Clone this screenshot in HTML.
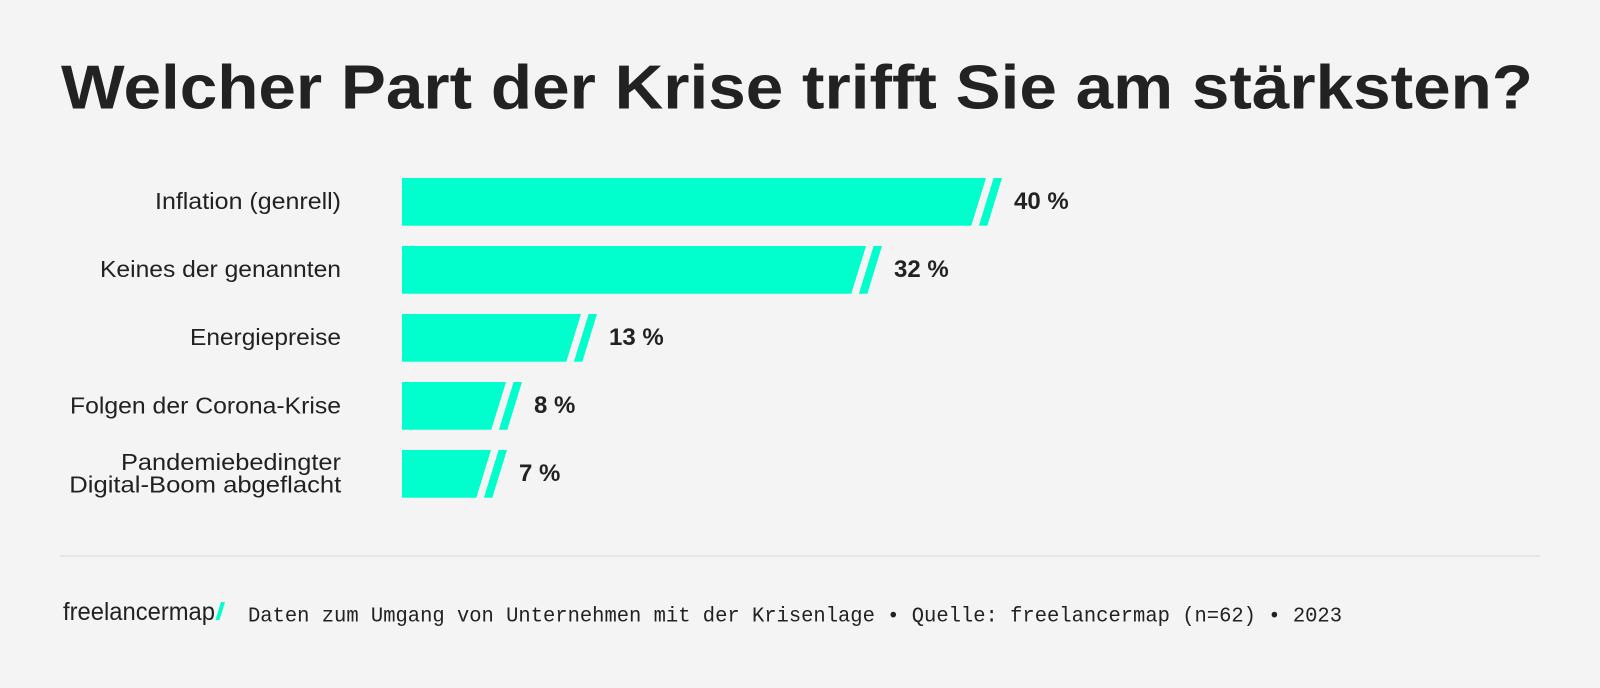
<!DOCTYPE html>
<html>
<head>
<meta charset="utf-8">
<style>
html,body{margin:0;padding:0;background:#f4f4f4;}
svg{display:block;}
</style>
</head>
<body>
<svg width="1600" height="688" viewBox="0 0 1600 688" xmlns="http://www.w3.org/2000/svg">
<rect x="0" y="0" width="1600" height="688" fill="#f4f4f4"/>
<text x="61" y="108.3" font-family="Liberation Sans, Arial, sans-serif" font-weight="bold" font-size="62" fill="#222222" textLength="1472" lengthAdjust="spacingAndGlyphs">Welcher Part der Krise trifft Sie am stärksten?</text>

<g font-family="Liberation Sans, Arial, sans-serif" font-size="23" fill="#222222">
<text x="155" y="209" textLength="186" lengthAdjust="spacingAndGlyphs">Inflation (genrell)</text>
<text x="100" y="277" textLength="241" lengthAdjust="spacingAndGlyphs">Keines der genannten</text>
<text x="190" y="345" textLength="151" lengthAdjust="spacingAndGlyphs">Energiepreise</text>
<text x="70" y="413.3" textLength="271" lengthAdjust="spacingAndGlyphs">Folgen der Corona-Krise</text>
<text x="121" y="470" textLength="220" lengthAdjust="spacingAndGlyphs">Pandemiebedingter</text>
<text x="69.3" y="492.7" textLength="272" lengthAdjust="spacingAndGlyphs">Digital-Boom abgeflacht</text>
</g>

<g fill="#00ffcc">
<polygon points="402,178 986,178 971.3,225.7 402,225.7"/>
<polygon points="993.6,178 1002,178 987.3,225.7 978.9,225.7"/>
<polygon points="402,246 866,246 851.3,293.7 402,293.7"/>
<polygon points="873.6,246 882,246 867.3,293.7 858.9,293.7"/>
<polygon points="402,314 581,314 566.3,361.7 402,361.7"/>
<polygon points="588.6,314 597,314 582.3,361.7 573.9,361.7"/>
<polygon points="402,382 506,382 491.3,429.7 402,429.7"/>
<polygon points="513.6,382 522,382 507.3,429.7 498.9,429.7"/>
<polygon points="402,450 491,450 476.3,497.7 402,497.7"/>
<polygon points="498.6,450 507,450 492.3,497.7 483.9,497.7"/>
</g>

<g font-family="Liberation Sans, Arial, sans-serif" font-weight="bold" font-size="24" fill="#222222">
<text x="1014" y="209">40 %</text>
<text x="894" y="277">32 %</text>
<text x="609" y="345">13 %</text>
<text x="534" y="413">8 %</text>
<text x="519" y="481">7 %</text>
</g>

<rect x="60" y="555" width="1480" height="2" fill="#e6e6e6"/>

<text x="63" y="620" font-family="Liberation Sans, Arial, sans-serif" font-size="25" fill="#222222" textLength="152" lengthAdjust="spacingAndGlyphs">freelancermap</text>
<polygon points="221,602 225,602 219.5,620 215.5,620" fill="#00ffcc"/>

<text x="248" y="621.7" font-family="Liberation Mono, DejaVu Sans Mono, monospace" font-size="21" fill="#222222" textLength="1094" lengthAdjust="spacingAndGlyphs">Daten zum Umgang von Unternehmen mit der Krisenlage • Quelle: freelancermap (n=62) • 2023</text>
</svg>
</body>
</html>
